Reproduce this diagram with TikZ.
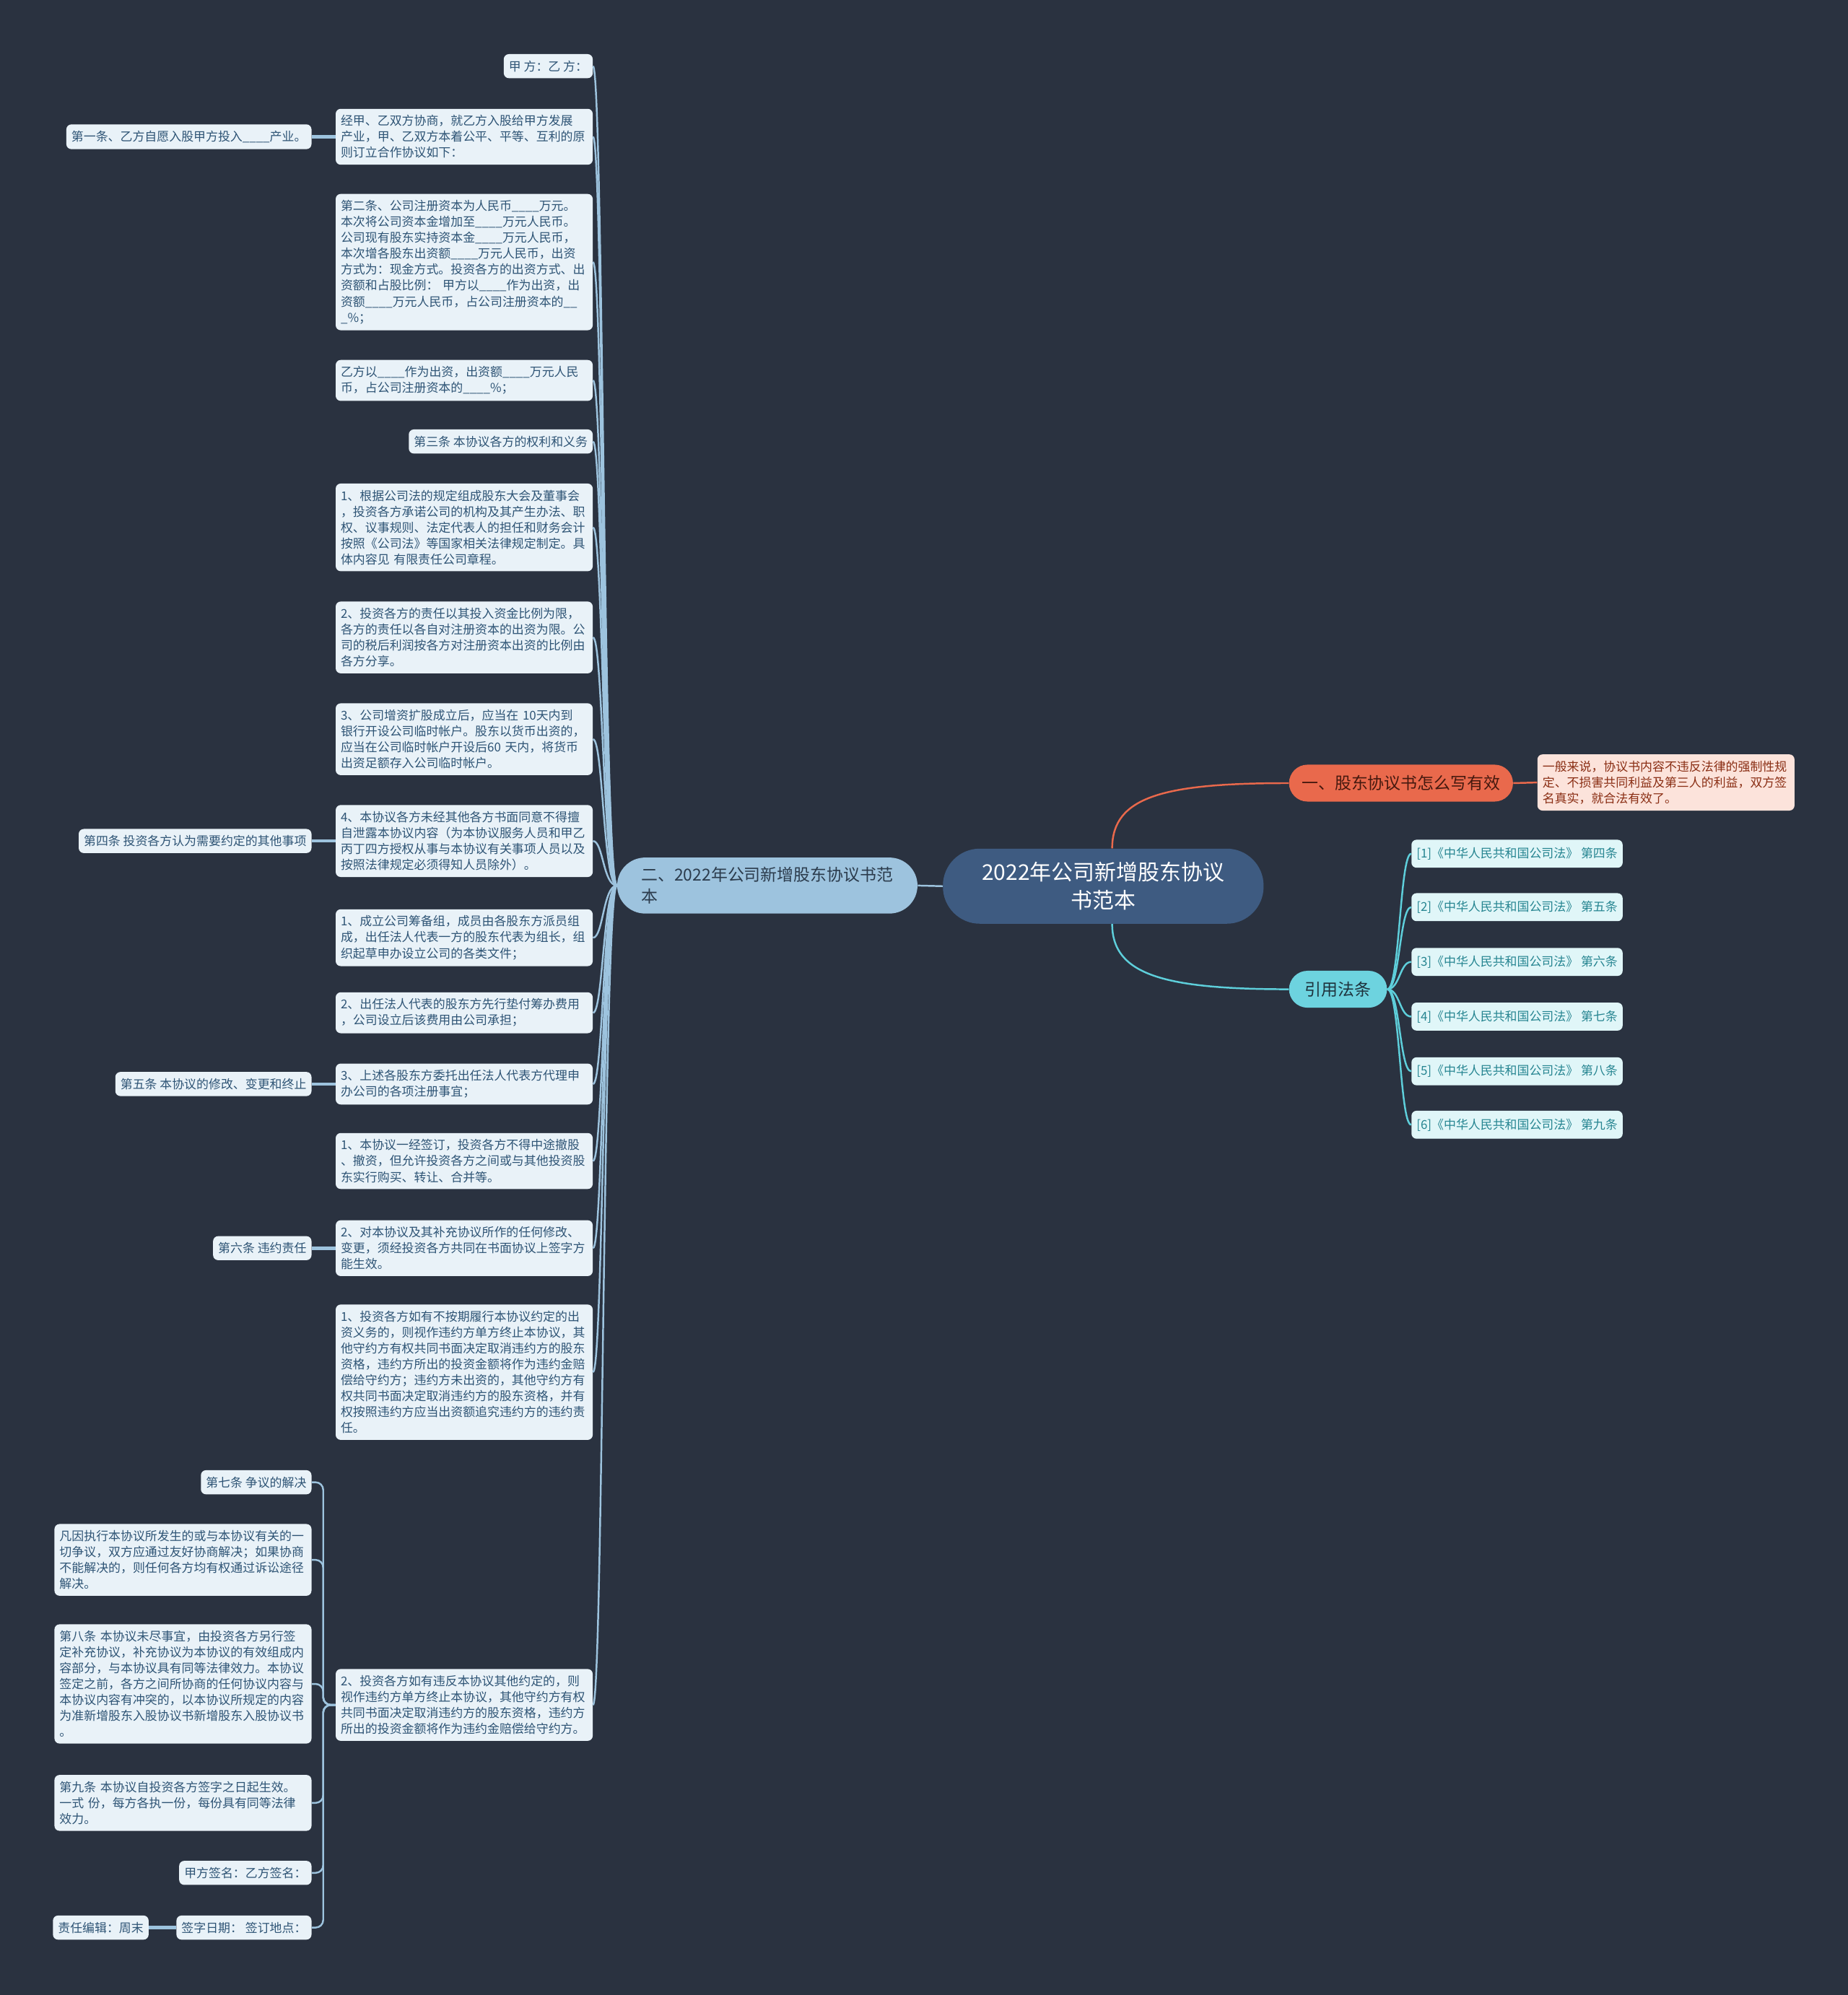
\documentclass[tikz,border=0pt]{standalone}
\usepackage{fontspec}
\setmainfont{Noto Sans CJK SC}
\definecolor{bg}{HTML}{2A3240}
\definecolor{rootfill}{HTML}{3E5B81}
\definecolor{lbfill}{HTML}{9DC3DE}
\definecolor{lbtext}{HTML}{2B3B4C}
\definecolor{leaffill}{HTML}{E9F2F8}
\definecolor{leaftext}{HTML}{2E5475}
\definecolor{lline}{HTML}{9DC3DE}
\definecolor{orange}{HTML}{E9694C}
\definecolor{pinkfill}{HTML}{FCE3DB}
\definecolor{pinktext}{HTML}{8A2E14}
\definecolor{cyanfill}{HTML}{6DD3DF}
\definecolor{cyanline}{HTML}{5ECFDB}
\definecolor{lawfill}{HTML}{E0F6F8}
\definecolor{lawtext}{HTML}{268591}
\begin{document}
\begin{tikzpicture}[x=1pt,y=1pt,
  leaf/.style={fill=leaffill, text=leaftext, rounded corners=4pt, font=\fontsize{9.6}{12.5}\selectfont, inner xsep=4pt, inner ysep=5pt, align=left},
  leafw/.style={leaf, text width=194pt},
  lconn/.style={draw=lline, line width=1.4pt},
  lthick/.style={draw=lline, line width=2.6pt},
  pill/.style={rounded corners=#1},
]
\fill[bg] (0,0) rectangle (1452,-1568);
\useasboundingbox (0,0) rectangle (1452,-1568);

% root and main branches
\node[fill=rootfill, text=white, minimum width=252pt, minimum height=59pt, rounded corners=29pt, font=\fontsize{17}{22}\selectfont, align=center, inner sep=0pt] (root) at (867,-696.5) {2022年公司新增股东协议\\书范本};
\node[fill=lbfill, text=lbtext, text width=198pt, inner xsep=19pt, minimum height=44pt, rounded corners=22pt, font=\fontsize{13}{17}\selectfont, align=left, inner ysep=0pt] (L) at (603,-696) {二、2022年公司新增股东协议书范\\本};
\node[fill=orange, text={rgb,255:red,70;green,25;blue,15}, minimum width=176pt, minimum height=29pt, rounded corners=14.5pt, font=\fontsize{13}{17}\selectfont, inner sep=0pt] (r1) at (1101,-615.5) {一、股东协议书怎么写有效};
\node[fill=pinkfill, text=pinktext, rounded corners=4pt, font=\fontsize{9.6}{12.5}\selectfont, inner xsep=4pt, inner ysep=5pt, align=left, text width=194pt, anchor=west] (r1c) at (1208,-615) {一般来说，协议书内容不违反法律的强制性规\\定、不损害共同利益及第三人的利益，双方签\\名真实，就合法有效了。};
\node[fill=cyanfill, text={rgb,255:red,30;green,50;blue,60}, minimum width=77pt, minimum height=29pt, rounded corners=14.5pt, font=\fontsize{13}{17}\selectfont, inner sep=0pt] (r2) at (1051.5,-777.5) {引用法条};

% law nodes
\tikzset{law/.style={fill=lawfill, text=lawtext, rounded corners=4pt, font=\fontsize{9.6}{12.5}\selectfont, inner xsep=4pt, inner ysep=5pt, minimum height=22pt, anchor=west}}
\node[law] (law1) at (1109,-671) {[1]《中华人民共和国公司法》 第四条};
\node[law] (law2) at (1109,-713) {[2]《中华人民共和国公司法》 第五条};
\node[law] (law3) at (1109,-756) {[3]《中华人民共和国公司法》 第六条};
\node[law] (law4) at (1109,-799) {[4]《中华人民共和国公司法》 第七条};
\node[law] (law5) at (1109,-842) {[5]《中华人民共和国公司法》 第八条};
\node[law] (law6) at (1109,-884) {[6]《中华人民共和国公司法》 第九条};

% left leaves
\node[leaf, anchor=east] (a1) at (466,-52) {甲 方：乙 方：};
\node[leafw, anchor=east] (a2) at (466,-107.5) {经甲、乙双方协商，就乙方入股给甲方发展\\产业，甲、乙双方本着公平、平等、互利的原\\则订立合作协议如下：};
\node[leafw, anchor=east] (a3) at (466,-206) {第二条、公司注册资本为人民币\_\_\_\_万元。\\本次将公司资本金增加至\_\_\_\_万元人民币。\\公司现有股东实持资本金\_\_\_\_万元人民币，\\本次增各股东出资额\_\_\_\_万元人民币，出资\\方式为：现金方式。投资各方的出资方式、出\\资额和占股比例： 甲方以\_\_\_\_作为出资，出\\资额\_\_\_\_万元人民币，占公司注册资本的\_\_\\\_\%；};
\node[leafw, anchor=east] (a4) at (466,-299) {乙方以\_\_\_\_作为出资，出资额\_\_\_\_万元人民\\币，占公司注册资本的\_\_\_\_\%；};
\node[leaf, anchor=east] (a5) at (466,-347) {第三条 本协议各方的权利和义务};
\node[leafw, anchor=east] (a6) at (466,-414.5) {1、根据公司法的规定组成股东大会及董事会\\，投资各方承诺公司的机构及其产生办法、职\\权、议事规则、法定代表人的担任和财务会计\\按照《公司法》等国家相关法律规定制定。具\\体内容见 有限责任公司章程。};
\node[leafw, anchor=east] (a7) at (466,-501) {2、投资各方的责任以其投入资金比例为限，\\各方的责任以各自对注册资本的出资为限。公\\司的税后利润按各方对注册资本出资的比例由\\各方分享。};
\node[leafw, anchor=east] (a8) at (466,-581) {3、公司增资扩股成立后，应当在 10天内到\\银行开设公司临时帐户。股东以货币出资的，\\应当在公司临时帐户开设后60 天内，将货币\\出资足额存入公司临时帐户。};
\node[leafw, anchor=east] (a9) at (466,-661) {4、本协议各方未经其他各方书面同意不得擅\\自泄露本协议内容（为本协议服务人员和甲乙\\丙丁四方授权从事与本协议有关事项人员以及\\按照法律规定必须得知人员除外）。};
\node[leafw, anchor=east] (a10) at (466,-737) {1、成立公司筹备组，成员由各股东方派员组\\成，出任法人代表一方的股东代表为组长，组\\织起草申办设立公司的各类文件；};
\node[leafw, anchor=east] (a11) at (466,-796) {2、出任法人代表的股东方先行垫付筹办费用\\，公司设立后该费用由公司承担；};
\node[leafw, anchor=east] (a12) at (466,-852) {3、上述各股东方委托出任法人代表方代理申\\办公司的各项注册事宜；};
\node[leafw, anchor=east] (a13) at (466,-912.5) {1、本协议一经签订，投资各方不得中途撤股\\、撤资，但允许投资各方之间或与其他投资股\\东实行购买、转让、合并等。};
\node[leafw, anchor=east] (a14) at (466,-981) {2、对本协议及其补充协议所作的任何修改、\\变更，须经投资各方共同在书面协议上签字方\\能生效。};
\node[leafw, anchor=east] (a15) at (466,-1078.5) {1、投资各方如有不按期履行本协议约定的出\\资义务的，则视作违约方单方终止本协议，其\\他守约方有权共同书面决定取消违约方的股东\\资格，违约方所出的投资金额将作为违约金赔\\偿给守约方；违约方未出资的，其他守约方有\\权共同书面决定取消违约方的股东资格，并有\\权按照违约方应当出资额追究违约方的违约责\\任。};
\node[leafw, anchor=east] (a16) at (466,-1340) {2、投资各方如有违反本协议其他约定的，则\\视作违约方单方终止本协议，其他守约方有权\\共同书面决定取消违约方的股东资格，违约方\\所出的投资金额将作为违约金赔偿给守约方。};

% second-level left
\node[leaf, anchor=east] (b2) at (245,-107.5) {第一条、乙方自愿入股甲方投入\_\_\_\_产业。};
\node[leaf, anchor=east] (b9) at (245,-661) {第四条 投资各方认为需要约定的其他事项};
\node[leaf, anchor=east] (b12) at (245,-852) {第五条 本协议的修改、变更和终止};
\node[leaf, anchor=east] (b14) at (245,-981) {第六条 违约责任};
\node[leaf, anchor=east] (c1) at (245,-1165) {第七条 争议的解决};
\node[leafw, anchor=east] (c2) at (245,-1226) {凡因执行本协议所发生的或与本协议有关的一\\切争议，双方应通过友好协商解决；如果协商\\不能解决的，则任何各方均有权通过诉讼途径\\解决。};
\node[leafw, anchor=east] (c3) at (245,-1323.5) {第八条 本协议未尽事宜，由投资各方另行签\\定补充协议，补充协议为本协议的有效组成内\\容部分，与本协议具有同等法律效力。本协议\\签定之前，各方之间所协商的任何协议内容与\\本协议内容有冲突的，以本协议所规定的内容\\为准新增股东入股协议书新增股东入股协议书\\。};
\node[leafw, anchor=east] (c4) at (245,-1417) {第九条 本协议自投资各方签字之日起生效。\\一式 份，每方各执一份，每份具有同等法律\\效力。};
\node[leaf, anchor=east] (c5) at (245,-1472) {甲方签名：乙方签名：};
\node[leaf, anchor=east] (c6) at (245,-1515) {签字日期： 签订地点：};
\node[leaf, anchor=east] (c7) at (117,-1515) {责任编辑：周末};

% connectors
\draw[lconn] (root.west) -- (L.east);
\draw[draw=orange, line width=1.4pt] ([xshift=7pt]root.north) .. controls +(0,41) and (915,-615.5) .. (r1.west);
\draw[draw=orange, line width=1.4pt] (r1.east) -- (r1c.west);
\draw[draw=cyanline, line width=1.4pt] ([xshift=7pt]root.south) .. controls +(0,-40) and (915,-777.5) .. (r2.west);
\foreach \n in {law1,law2,law3,law4,law5,law6}
  \draw[draw=cyanline, line width=1.4pt] (r2.east) .. controls (1100,-777.5) and (1100,0 |- \n.west) .. (\n.west);
\foreach \n in {a1,a2,a3,a4,a5,a6,a7,a8,a9,a10,a11,a12,a13,a14,a15,a16}
  \draw[lconn] (L.west) .. controls (474,-696) and (474,0 |- \n.east) .. (\n.east);
\draw[lthick] (a2.west) -- (b2.east);
\draw[lthick] (a9.west) -- (b9.east);
\draw[lthick] (a12.west) -- (b12.east);
\draw[lthick] (a14.west) -- (b14.east);
\foreach \n in {c1,c2,c3,c4,c5,c6}
  \draw[lconn, rounded corners=6pt] (a16.west) -- (254,0 |- a16.west) |- (\n.east);
\draw[lthick] (c6.west) -- (c7.east);
\end{tikzpicture}
\end{document}
